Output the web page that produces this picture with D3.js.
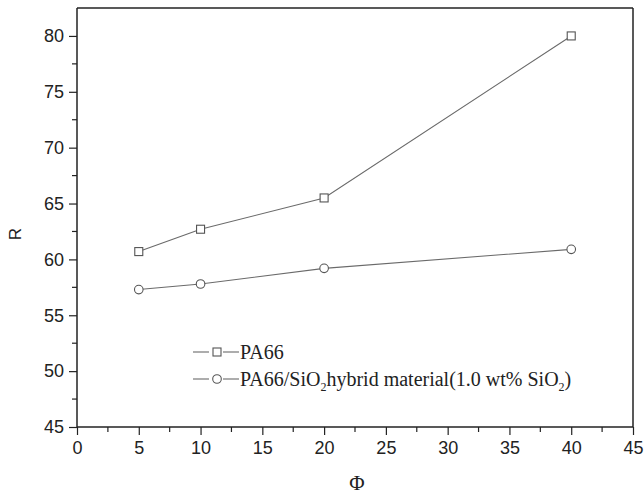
<!DOCTYPE html>
<html>
<head>
<meta charset="utf-8">
<script src="https://cdn.jsdelivr.net/npm/d3@7"></script>
<style>
  body { margin: 0; background: #fff; }
  svg { display: block; }
</style>
</head>
<body>
<div class="svg_container"></div>
<script>
// Data
var phi = [5, 10, 20, 40];
var pa66 = [60.7, 62.7, 65.5, 80.0];
var hybrid = [57.3, 57.8, 59.2, 60.9];
var xTicks = [0, 5, 10, 15, 20, 25, 30, 35, 40, 45];
var yTicks = [45, 50, 55, 60, 65, 70, 75, 80];

var W = 644, H = 495;
var mLeft = 77, mRight = 633, mTop = 8, mBottom = 427;

var svg = d3.select("div.svg_container")
    .append("svg")
    .attr("width", W)
    .attr("height", H);

var x = d3.scaleLinear().domain([0, 45]).range([mLeft, mRight]);
var y = d3.scaleLinear().domain([45, 82.5]).range([mBottom, mTop]);

var lineColor = "#6a6a6a";

// frame: top and right
svg.append("line")
    .attr("x1", mLeft).attr("x2", mRight).attr("y1", mTop).attr("y2", mTop)
    .attr("stroke", "#222").attr("stroke-width", 1.5);
svg.append("line")
    .attr("x1", mRight).attr("x2", mRight).attr("y1", mTop).attr("y2", mBottom)
    .attr("stroke", "#222").attr("stroke-width", 1.5);

// minor ticks
var xMinor = d3.range(2.5, 45, 5);
var yMinor = d3.range(47.5, 82.5, 5);
svg.append("g").selectAll("line").data(xMinor).enter().append("line")
    .attr("x1", function(d){ return x(d); }).attr("x2", function(d){ return x(d); })
    .attr("y1", mBottom).attr("y2", mBottom + 5)
    .attr("stroke", "#222").attr("stroke-width", 1.2);
svg.append("g").selectAll("line").data(yMinor).enter().append("line")
    .attr("y1", function(d){ return y(d); }).attr("y2", function(d){ return y(d); })
    .attr("x1", mLeft).attr("x2", mLeft - 5)
    .attr("stroke", "#222").attr("stroke-width", 1.2);

// axes
var xAxis = svg.append("g")
    .attr("transform", "translate(0," + mBottom + ")")
    .call(d3.axisBottom(x).tickValues(xTicks).tickSize(8).tickSizeOuter(0).tickPadding(6));
var yAxis = svg.append("g")
    .attr("transform", "translate(" + mLeft + ",0)")
    .call(d3.axisLeft(y).tickValues(yTicks).tickSize(8).tickSizeOuter(0).tickPadding(5));

[xAxis, yAxis].forEach(function(a){
    a.select(".domain").attr("stroke", "#222").attr("stroke-width", 1.5);
    a.selectAll(".tick line").attr("stroke", "#222").attr("stroke-width", 1.2);
    a.selectAll(".tick text")
        .attr("fill", "#222")
        .style("font-family", "'Liberation Sans', Arial, sans-serif")
        .style("font-size", "18px");
});
// y-domain should span full height to the frame top
yAxis.select(".domain").attr("d", "M0," + mBottom + "V" + mTop);
xAxis.select(".domain").attr("d", "M" + mLeft + ",0H" + mRight);

// series lines
var line = d3.line()
    .x(function(d){ return x(d[0]); })
    .y(function(d){ return y(d[1]); });

var s1 = phi.map(function(p, i){ return [p, pa66[i]]; });
var s2 = phi.map(function(p, i){ return [p, hybrid[i]]; });

svg.append("path").datum(s1).attr("d", line)
    .attr("fill", "none").attr("stroke", lineColor).attr("stroke-width", 1.1);
svg.append("path").datum(s2).attr("d", line)
    .attr("fill", "none").attr("stroke", lineColor).attr("stroke-width", 1.1);

svg.append("g").selectAll("rect").data(s1).enter().append("rect")
    .attr("x", function(d){ return x(d[0]) - 4; })
    .attr("y", function(d){ return y(d[1]) - 4; })
    .attr("width", 8).attr("height", 8)
    .attr("fill", "#fff").attr("stroke", "#555").attr("stroke-width", 1.1);
svg.append("g").selectAll("circle").data(s2).enter().append("circle")
    .attr("cx", function(d){ return x(d[0]); })
    .attr("cy", function(d){ return y(d[1]); })
    .attr("r", 4.3)
    .attr("fill", "#fff").attr("stroke", "#555").attr("stroke-width", 1.1);

// axis titles
svg.append("text")
    .attr("transform", "translate(21,234) rotate(-90)")
    .attr("text-anchor", "middle")
    .style("font-family", "'Liberation Sans', Arial, sans-serif")
    .style("font-size", "17px")
    .attr("fill", "#222")
    .text("R");
svg.append("text")
    .attr("x", 357).attr("y", 490)
    .attr("text-anchor", "middle")
    .style("font-family", "'Liberation Serif', 'Times New Roman', serif")
    .style("font-size", "21px")
    .attr("fill", "#222")
    .text("\u03A6");

// legend
var legend = svg.append("g").attr("class", "legend");
var legendFont = "'Liberation Serif', 'Times New Roman', serif";
var rows = [352, 379];
rows.forEach(function(ly, i){
    legend.append("line").attr("x1", 193).attr("x2", 209).attr("y1", ly).attr("y2", ly)
        .attr("stroke", lineColor).attr("stroke-width", 1.1);
    legend.append("line").attr("x1", 223).attr("x2", 239).attr("y1", ly).attr("y2", ly)
        .attr("stroke", lineColor).attr("stroke-width", 1.1);
    if (i === 0) {
        legend.append("rect").attr("x", 213).attr("y", ly - 4).attr("width", 8).attr("height", 8)
            .attr("fill", "#fff").attr("stroke", "#555").attr("stroke-width", 1.1);
    } else {
        legend.append("circle").attr("cx", 217).attr("cy", ly).attr("r", 4.3)
            .attr("fill", "#fff").attr("stroke", "#555").attr("stroke-width", 1.1);
    }
});

legend.append("text")
    .attr("x", 240).attr("y", rows[0] + 7)
    .style("font-family", legendFont).style("font-size", "20px").attr("fill", "#222")
    .text("PA66");

var t2 = legend.append("text")
    .attr("x", 240).attr("y", rows[1] + 7)
    .style("font-family", legendFont).style("font-size", "20px").attr("fill", "#222");
t2.append("tspan").text("PA66/SiO");
t2.append("tspan").attr("dy", 5).style("font-size", "12px").text("2");
t2.append("tspan").attr("dy", -5).text("hybrid material(1.0 wt% SiO");
t2.append("tspan").attr("dy", 5).style("font-size", "12px").text("2");
t2.append("tspan").attr("dy", -5).text(")");
</script>
</body>
</html>
